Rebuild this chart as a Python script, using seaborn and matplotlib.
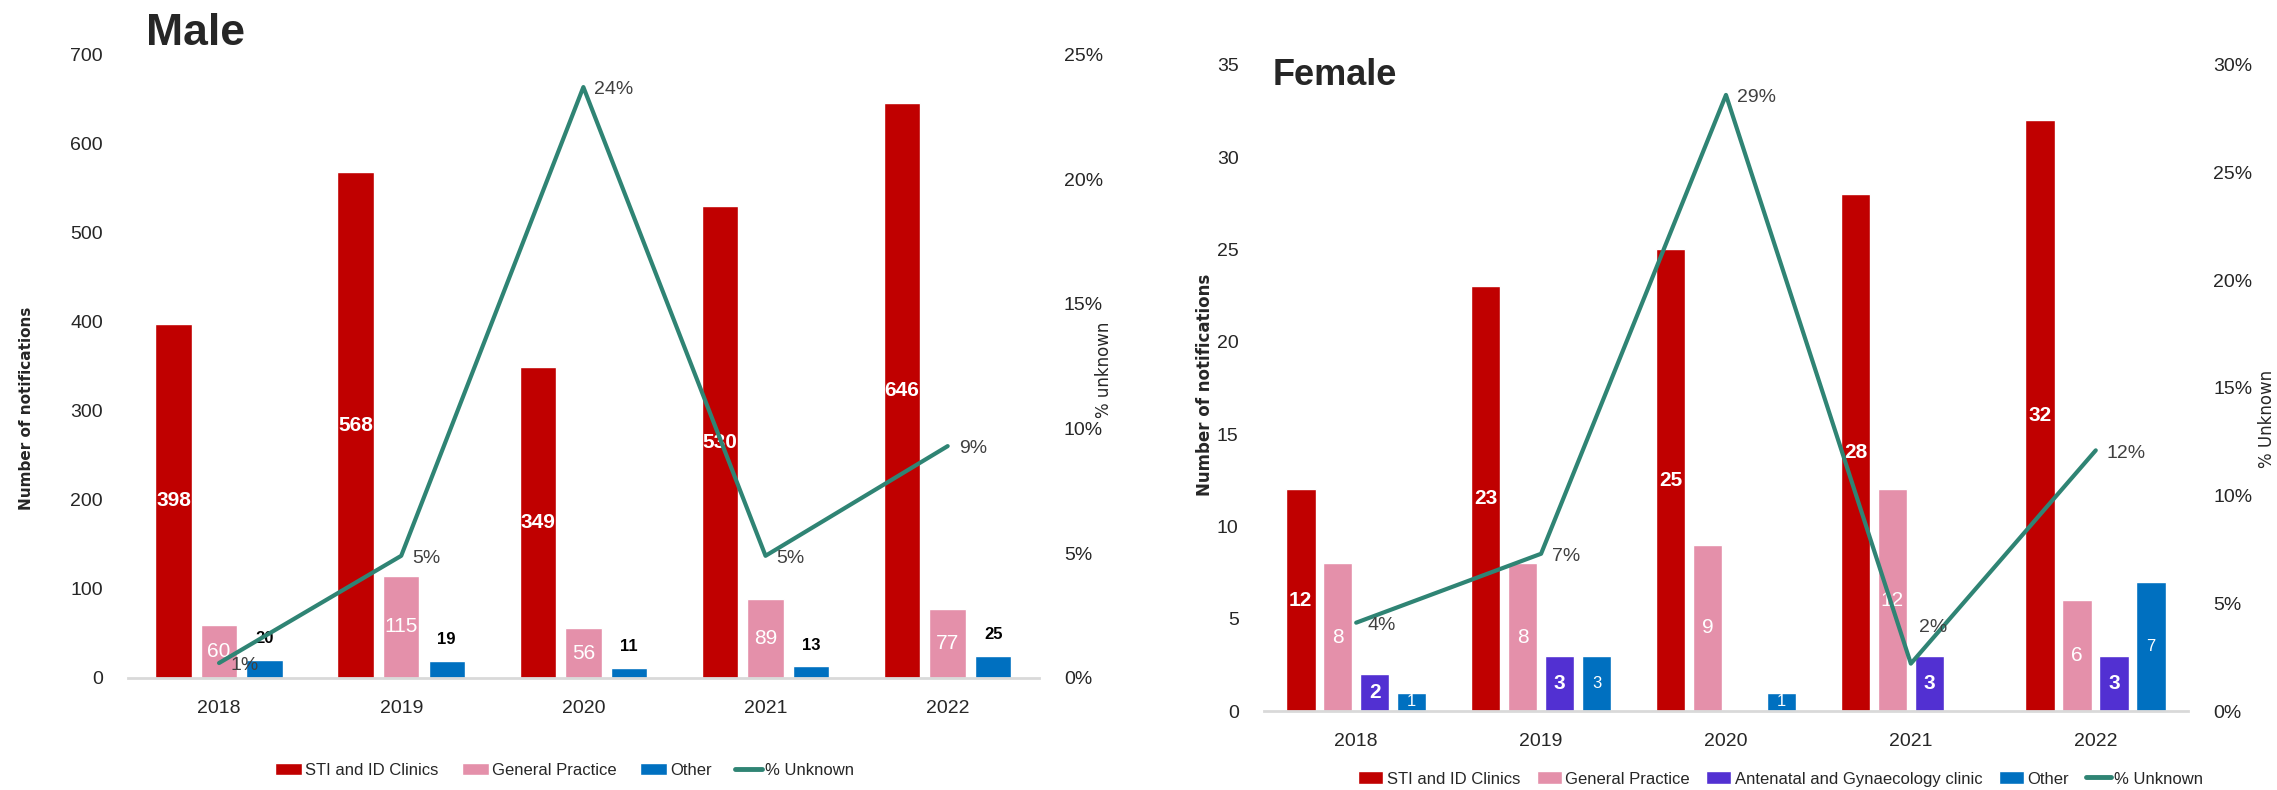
import matplotlib
matplotlib.use("Agg")
import matplotlib.pyplot as plt
import seaborn as sns
import pandas as pd
from matplotlib.patches import Patch
from matplotlib.lines import Line2D
from matplotlib.ticker import PercentFormatter, MultipleLocator

years = ["2018", "2019", "2020", "2021", "2022"]

# male
male_sti = [398, 568, 349, 530, 646]
male_gp = [60, 115, 56, 89, 77]
male_other = [20, 19, 11, 13, 25]
male_unknown = [0.6, 4.9, 23.7, 4.9, 9.3]

# female (None = no bar that year)
female_sti = [12, 23, 25, 28, 32]
female_gp = [8, 8, 9, 12, 6]
female_ante = [2, 3, None, 3, 3]
female_other = [1, 3, 1, None, 7]
female_unknown = [4.1, 7.3, 28.6, 2.2, 12.1]

RED = "#C00000"
PINK = "#E490AA"
PURPLE = "#5230D2"
BLUE = "#0070C0"
TEAL = "#2F8474"

sns.set_theme(style="white")
plt.rcParams["font.family"] = ["Liberation Sans", "DejaVu Sans"]


def long_table(series):
    rows = []
    for name, vals in series.items():
        for yr, v in zip(years, vals):
            if v is not None:
                rows.append({"year": yr, "setting": name, "n": v})
    return pd.DataFrame(rows)


def draw_panel(ax, series, colors, unknown, ymax, ystep, pmax, width, label_styles,
               pct_offsets=None):
    df = long_table(series)
    names = list(series.keys())
    sns.barplot(data=df, x="year", y="n", hue="setting", order=years, hue_order=names,
                palette=colors, width=width, gap=0.2, dodge=True, legend=False,
                saturation=1, ax=ax, zorder=2)
    for cont, style in zip(ax.containers, label_styles):
        ax.bar_label(cont, fmt="%d", **style)

    ax.set_ylim(0, ymax)
    ax.yaxis.set_major_locator(MultipleLocator(ystep))
    ax.set_xlim(-0.5, 4.5)
    ax.set_xlabel("")
    ax.tick_params(axis="both", length=0, labelsize=14, colors="#262626")
    ax.tick_params(axis="y", pad=18)
    ax.tick_params(axis="x", pad=16)
    for s in ["left", "right", "top"]:
        ax.spines[s].set_visible(False)
    ax.spines["bottom"].set_color("#D9D9D9")
    ax.spines["bottom"].set_linewidth(2)
    ax.grid(False)

    ax2 = ax.twinx()
    sns.pointplot(x=years, y=unknown, ax=ax2, color=TEAL, marker="", linewidth=3,
                  errorbar=None)
    ax2.set_ylim(0, pmax)
    ax2.set_xlim(-0.5, 4.5)
    ax2.yaxis.set_major_locator(MultipleLocator(5))
    ax2.yaxis.set_major_formatter(PercentFormatter(decimals=0))
    ax2.tick_params(axis="y", length=0, labelsize=14, colors="#262626", pad=18)
    for s in ax2.spines.values():
        s.set_visible(False)
    ax2.grid(False)
    pct_offsets = pct_offsets or {}
    for i, v in enumerate(unknown):
        off = pct_offsets.get(i, (8, -2))
        ax2.annotate(f"{round(v):.0f}%", (i, v), xytext=off, textcoords="offset points",
                     ha="left", va="center", fontsize=14, color="#404040")
    return ax2


fig = plt.figure(figsize=(22.77, 7.9), dpi=100)

# ---- Male ----
axm = fig.add_axes([0.0562, 0.1418, 0.400, 0.789])
white_bold = dict(label_type="center", color="white", fontsize=15, fontweight="bold")
white = dict(label_type="center", color="white", fontsize=15)
axm2 = draw_panel(
    axm,
    {"STI and ID Clinics": male_sti, "General Practice": male_gp, "Other": male_other},
    [RED, PINK, BLUE], male_unknown, 700, 100, 25, 0.75,
    [white_bold, white, dict(label_type="edge", color="black", fontsize=12,
                             fontweight="bold", padding=10)],
)
axm.set_ylabel("Number of notifications", fontsize=11, fontweight="bold",
               family="DejaVu Sans", color="#262626")
axm.yaxis.set_label_coords(-0.1036, 0.432)
axm2.set_ylabel("% unknown", fontsize=12, family="DejaVu Sans", color="#262626")
axm2.yaxis.set_label_coords(1.062, 0.494)
fig.text(0.064, 0.958, "Male", fontsize=32, fontweight="bold", va="center", ha="left")

# ---- Female ----
axf = fig.add_axes([0.555, 0.100, 0.406, 0.818])
axf2 = draw_panel(
    axf,
    {"STI and ID Clinics": female_sti, "General Practice": female_gp,
     "Antenatal and Gynaecology clinic": female_ante, "Other": female_other},
    [RED, PINK, PURPLE, BLUE], female_unknown, 35, 5, 30, 0.8,
    [white_bold, white, white_bold, dict(label_type="center", color="white", fontsize=12)],
    pct_offsets={3: (6, 26)},
)
axf.set_ylabel("Number of notifications", fontsize=12, fontweight="bold",
               family="DejaVu Sans", color="#262626")
axf.yaxis.set_label_coords(-0.054, 0.505)
axf2.set_ylabel("% Unknown", fontsize=12, family="DejaVu Sans", color="#262626")
axf2.yaxis.set_label_coords(1.076, 0.452)
fig.text(0.559, 0.904, "Female", fontsize=26, fontweight="bold", va="center", ha="left")


def legend_handles(names, colors):
    h = [Patch(facecolor=c, label=n) for n, c in zip(names, colors)]
    h.append(Line2D([0], [0], color=TEAL, lw=3.5, label="% Unknown"))
    return h


fig.legend(handles=legend_handles(["STI and ID Clinics", "General Practice", "Other"],
                                  [RED, PINK, BLUE]),
           loc="center", bbox_to_anchor=(0.248, 0.025), ncol=4, frameon=False,
           fontsize=12, handlelength=1.6, handleheight=0.8, handletextpad=0.2,
           columnspacing=1.4)
fig.legend(handles=legend_handles(["STI and ID Clinics", "General Practice",
                                   "Antenatal and Gynaecology clinic", "Other"],
                                  [RED, PINK, PURPLE, BLUE]),
           loc="center", bbox_to_anchor=(0.782, 0.014), ncol=5, frameon=False,
           fontsize=12, handlelength=1.5, handleheight=0.8, handletextpad=0.2,
           columnspacing=1.0)

fig.savefig("out.png", dpi=100)
